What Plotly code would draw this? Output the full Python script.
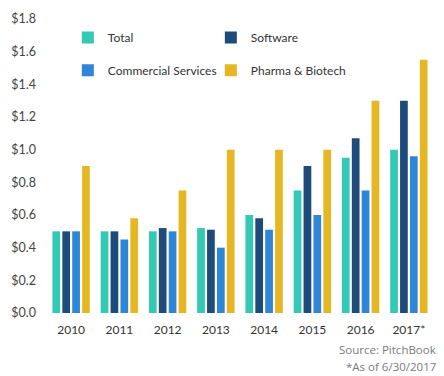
import plotly.graph_objects as go

years = ["2010", "2011", "2012", "2013", "2014", "2015", "2016", "2017*"]
total = [0.50, 0.50, 0.50, 0.52, 0.60, 0.75, 0.95, 1.00]
software = [0.50, 0.50, 0.52, 0.51, 0.58, 0.90, 1.07, 1.30]
commercial = [0.50, 0.45, 0.50, 0.40, 0.51, 0.60, 0.75, 0.96]
pharma = [0.90, 0.58, 0.75, 1.00, 1.00, 1.00, 1.30, 1.55]

series = [
    ("Total", total, "#33C9B5", "legend"),
    ("Software", software, "#1F4B7A", "legend"),
    ("Commercial Services", commercial, "#2F86D6", "legend2"),
    ("Pharma & Biotech", pharma, "#E5B823", "legend2"),
]

fig = go.Figure()
for name, vals, color, lg in series:
    fig.add_trace(go.Bar(x=years, y=vals, name=name, marker=dict(color=color, line=dict(width=0)),
                         legend=lg))

font = "Lato, 'Open Sans', sans-serif"
leg_common = dict(orientation="h", xanchor="left", yanchor="middle", bgcolor="rgba(0,0,0,0)",
                  font=dict(family=font, size=12, color="#333333"), entrywidth=98,
                  itemwidth=30, traceorder="normal", borderwidth=0)

fig.update_layout(
    width=444, height=376,
    margin=dict(l=41, r=11, t=14, b=63),
    paper_bgcolor="white", plot_bgcolor="white",
    barmode="group", bargap=0.18, bargroupgap=0.22,
    showlegend=True,
    legend=dict(x=0.054, y=0.937, **leg_common),
    legend2=dict(x=0.054, y=0.826, **leg_common),
    xaxis=dict(showgrid=False, showline=False, ticks="", ticklabelstandoff=8,
               tickfont=dict(family=font, size=12, color="#333333")),
    yaxis=dict(range=[0, 1.8], dtick=0.2, tickformat="$.1f", showgrid=False, zeroline=False,
               showline=False, ticks="", ticklabelstandoff=10,
               tickfont=dict(family=font, size=12.5, color="#444444")),
    annotations=[
        dict(text="Source: PitchBook", xref="paper", yref="paper", x=1.013, y=-0.124, xanchor="right",
             yanchor="middle", showarrow=False, font=dict(family="'Open Sans', sans-serif", size=11.5, color="#7a7a7a")),
        dict(text="*As of 6/30/2017", xref="paper", yref="paper", x=1.013, y=-0.181, xanchor="right",
             yanchor="middle", showarrow=False, font=dict(family="'Open Sans', sans-serif", size=11.5, color="#7a7a7a")),
    ],
)

fig.write_html("out.html", config={"displayModeBar": False},
               post_script="document.body.style.margin='0px';")
